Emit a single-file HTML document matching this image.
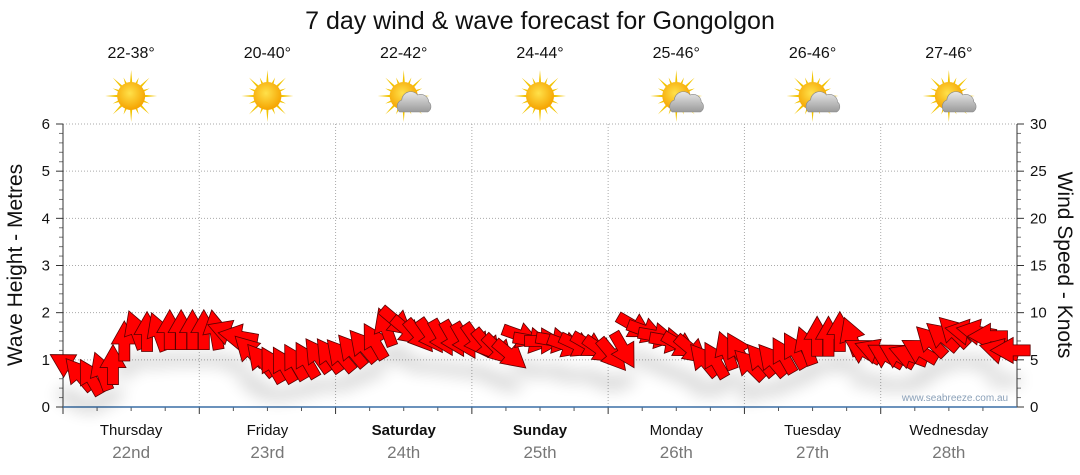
<!DOCTYPE html>
<html><head><meta charset="utf-8"><style>
body{margin:0;background:#fff;}
svg{display:block;font-family:"Liberation Sans","DejaVu Sans",sans-serif;}
</style></head><body>
<svg id="chart" width="1080" height="475" viewBox="0 0 1080 475">
<defs>
<radialGradient id="sunG" cx="0.45" cy="0.4" r="0.6"><stop offset="0" stop-color="#ffe14a"/><stop offset="1" stop-color="#f5a300"/></radialGradient>
<linearGradient id="cloudG" x1="0" y1="0" x2="0" y2="1"><stop offset="0" stop-color="#e8e8e8"/><stop offset="1" stop-color="#9a9a9a"/></linearGradient>
<filter id="shadow" x="-50%" y="-50%" width="200%" height="200%"><feGaussianBlur stdDeviation="8"/></filter>
</defs>
<text x="540" y="29" font-size="25" text-anchor="middle" fill="#111">7 day wind &amp; wave forecast for Gongolgon</text>
<g id="header"></g>
<g id="grid"></g>
<g id="axes"></g>
<g id="shadows" filter="url(#shadow)" opacity="0.16"></g>
<g id="arrows"></g>
<text x="955" y="401" font-size="10" fill="#8aa0b8" text-anchor="middle">www.seabreeze.com.au</text>
<text transform="translate(22,265) rotate(-90)" font-size="21" text-anchor="middle" fill="#111">Wave Height - Metres</text>
<text transform="translate(1058,265) rotate(90)" font-size="21" text-anchor="middle" fill="#111">Wind Speed - Knots</text>
</svg>
<script>
const days=["Thursday","Friday","Saturday","Sunday","Monday","Tuesday","Wednesday"];
const dates=["22nd","23rd","24th","25th","26th","27th","28th"];
const boldDays=[false,false,true,true,false,false,false];
const temps=["22-38°","20-40°","22-42°","24-44°","25-46°","26-46°","27-46°"];
const cloudy=[false,false,true,false,true,true,true];
const waveTicks=[0,1,2,3,4,5,6];
const windTicks=[0,5,10,15,20,25,30];
const windSpeed=[4.5,3.5,3.2,3.8,4.5,7,8.2,8,8,8.2,8.2,8.2,
 8.2,8.2,8,7.5,6,5,4.5,4.5,4.8,5,5.5,5.5,
 5.5,6,6.5,7,8.5,9,8,7.5,7.5,7.3,7.2,7,
 7,6.5,6,5.5,7.5,7,7,7,6.5,6.5,6.5,6,
 5.5,6,8.5,8,7.5,7,6.5,6,5,5,6,6,
 4.5,5,5,5.5,6,6.5,7.5,7.5,8,7.5,6,6,
 5.5,5.5,5.5,6,7,7.5,8,8,8,7.5,6,6];
const windDir=[-60,-40,-30,-20,0,0,-20,0,-20,0,0,0,
 0,-10,-70,-80,-45,-40,-30,-30,-30,-30,-35,-35,
 -40,-40,-40,-30,-20,130,130,140,145,150,150,150,
 145,140,135,130,110,100,90,100,110,115,120,125,
 140,150,120,110,100,100,120,130,-40,-30,-20,-30,
 -45,-40,-40,-30,-30,-20,0,0,0,-20,-60,-70,
 -60,-60,-70,-60,-45,-50,-45,-80,-80,-90,-75,-90];
const NS="http://www.w3.org/2000/svg";
const X0=63,X1=1017,Y0=407,Y1=124;
const dayW=(X1-X0)/7;
const yWave=v=>Y0-(v/6)*(Y0-Y1);
const yWind=v=>Y0-(v/30)*(Y0-Y1);
const xIdx=i=>X0+(i+0.4)*(X1-X0)/windSpeed.length;
function mk(tag,attrs,parent,txt){const e=document.createElementNS(NS,tag);for(const k in attrs)e.setAttribute(k,attrs[k]);if(txt!==undefined)e.textContent=txt;parent.appendChild(e);return e;}
const header=document.getElementById('header'),grid=document.getElementById('grid'),axes=document.getElementById('axes');
days.forEach((d,i)=>{
 const cx=X0+dayW*(i+0.5);
 let t=mk('text',{x:cx,y:58,'font-size':16,'text-anchor':'middle',fill:'#111'},header,temps[i]);
 
 
 const g=mk('g',{transform:`translate(${cx},96)`},header);
 
 
 for(let k=0;k<16;k++){const a=k*Math.PI/8;const L=k%2?20:26;
  mk('polygon',{points:`${Math.cos(a-0.12)*11},${Math.sin(a-0.12)*11} ${Math.cos(a)*L},${Math.sin(a)*L} ${Math.cos(a+0.12)*11},${Math.sin(a+0.12)*11}`,fill:'#f2c400'},g);}
 mk('circle',{cx:0,cy:0,r:14,fill:'url(#sunG)'},g);
 if(cloudy[i]){const c=mk('g',{transform:'translate(10,6)'},g);
  mk('path',{d:'M-14,10 A7,7 0 0 1 -12,-2 A9,9 0 0 1 4,-7 A8,8 0 0 1 15,0 A6,6 0 0 1 14,10 Z',fill:'url(#cloudG)',stroke:'#888','stroke-width':0.6},c);}
 let l=mk('text',{x:cx,y:435,'font-size':15,'text-anchor':'middle',fill:'#111','font-weight':boldDays[i]?'bold':'normal'},axes,d);
 
 
 let dl=mk('text',{x:cx,y:458,'font-size':17,'text-anchor':'middle',fill:'#777'},axes,dates[i]);
 
 
 if(i>0){const gx=X0+dayW*i;const v=mk('line',{x1:gx,y1:Y1,x2:gx,y2:Y0,stroke:'#aaa','stroke-dasharray':'1,2'},grid);
  
  
  mk('line',{x1:gx,y1:Y0,x2:gx,y2:Y0+7,stroke:'#333'},axes);}
 for(let q=1;q<4;q++){const mx=X0+dayW*i+dayW*q/4;mk('line',{x1:mx,y1:Y0,x2:mx,y2:Y0+4,stroke:'#555'},axes);}
});
waveTicks.forEach(v=>{const y=yWave(v);
 if(v>0){const h=mk('line',{x1:X0,y1:y,x2:X1,y2:y,stroke:'#aaa','stroke-dasharray':'1,2'},grid);
  
  }
 let t=mk('text',{x:50,y:y+5,'font-size':15,'text-anchor':'end',fill:'#111'},axes,v);
 
 
 mk('line',{x1:X0-7,y1:y,x2:X0,y2:y,stroke:'#333'},axes);
 if(v<6)for(let m=1;m<5;m++){const my=yWave(v+m*0.2);mk('line',{x1:X0-4,y1:my,x2:X0,y2:my,stroke:'#777'},axes);}
});
windTicks.forEach(v=>{const y=yWind(v);
 let t=mk('text',{x:1030,y:y+5,'font-size':15,'text-anchor':'start',fill:'#111'},axes,v);
 
 
 mk('line',{x1:X1,y1:y,x2:X1+7,y2:y,stroke:'#333'},axes);
 if(v<30)for(let m=1;m<5;m++){const my=yWind(v+m);mk('line',{x1:X1,y1:my,x2:X1+4,y2:my,stroke:'#777'},axes);}
});
mk('line',{x1:X0,y1:Y1,x2:X0,y2:Y0+7,stroke:'#333'},axes);
mk('line',{x1:X1,y1:Y1,x2:X1,y2:Y0,stroke:'#333'},axes);
const bx=mk('line',{x1:X0,y1:Y0,x2:X1,y2:Y0,stroke:'#3a6ea5','stroke-width':1.5},axes);


const arrows=document.getElementById('arrows'),shadows=document.getElementById('shadows');
const AP='M-5.5,20 L-5.5,3 L-13,3 L0,-20 L13,3 L5.5,3 L5.5,20 Z';
windSpeed.forEach((s,i)=>{
 const x=xIdx(i),y=yWind(s);
 mk('ellipse',{cx:x,cy:y+30,rx:12,ry:6,fill:'#000'},shadows);
 const p=mk('path',{d:AP,transform:`translate(${x},${y}) rotate(${windDir[i]})`,fill:'#ff0000',stroke:'#5a0000','stroke-width':0.8,'stroke-linejoin':'miter'},arrows);
 
 
});
</script>
</body></html>
